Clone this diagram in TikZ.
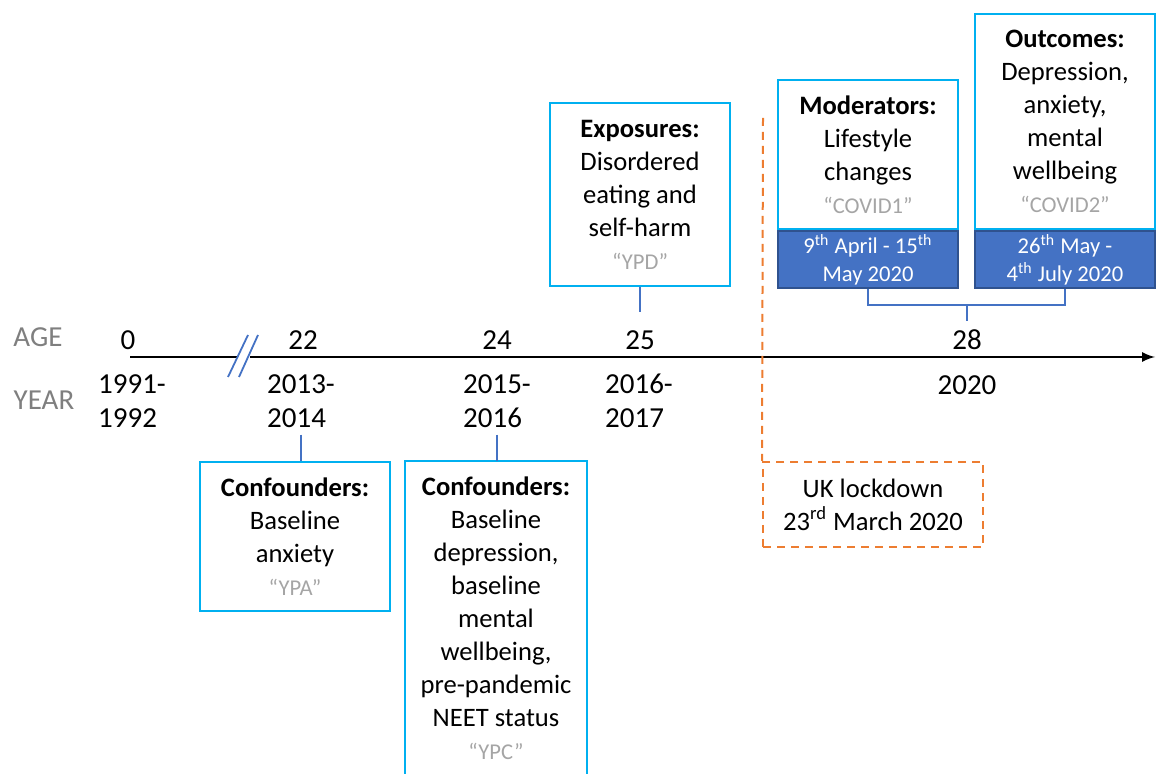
\documentclass[tikz,border=0pt]{standalone}
\usepackage{fontspec}
\setmainfont{Carlito}
\usetikzlibrary{arrows}
\usetikzlibrary{positioning}

\definecolor{boxcyan}{HTML}{00B0F0}
\definecolor{linkblue}{HTML}{4472C4}
\definecolor{dateedge}{HTML}{2F528F}
\definecolor{lockorange}{HTML}{ED7D31}
\definecolor{sidegray}{HTML}{7F7F7F}
\definecolor{wavegray}{HTML}{A5A5A5}

\newcommand{\tlboxfont}{\fontsize{13.3}{16.5}\selectfont}
\newcommand{\tldatefont}{\fontsize{11.3}{14}\selectfont}
\newcommand{\tlagefont}{\fontsize{14.5}{17}\selectfont}
\newcommand{\wavename}[1]{{\fontsize{11.3}{16.5}\selectfont\color{wavegray}“#1”}}

\begin{document}
\begin{tikzpicture}[x=0.5pt,y=-0.5pt,
  infobox/.style={draw=boxcyan,line width=1.1pt,align=center,minimum width=90pt,inner sep=2pt,font=\tlboxfont},
  datebox/.style={draw=dateedge,fill=linkblue,line width=0.8pt,text=white,align=center,minimum width=90pt,minimum height=28.5pt,inner sep=1pt,font=\tldatefont},
  lockbox/.style={draw=lockorange,line width=1pt,dash pattern=on 4pt off 3pt,align=center,minimum width=110pt,minimum height=42.5pt,font=\tlboxfont},
  link/.style={draw=linkblue,line width=0.6pt},
  agelabel/.style={font=\tlagefont},
  sidelabel/.style={font=\tlagefont,text=sidegray}]
  \useasboundingbox (0,0) rectangle (1156,774);

  % time axis
  \coordinate (start) at (130,357);
  \coordinate (breakL) at (237,357);
  \coordinate (breakR) at (250,357);
  \coordinate (end) at (1155,357);
  \draw [line width=1.2pt] (start) -- (breakL);
  \draw [line width=1.2pt,-latex] (breakR) -- (end);
  \draw [linkblue,line width=0.9pt] (228,377) -- (248,335);
  \draw [linkblue,line width=0.9pt] (239,377) -- (258,335);

  \node [sidelabel] (age) at (38,337) {AGE};
  \node [sidelabel] (year) at (44,400) {YEAR};

  \node [agelabel] (a0) at (128,340) {0};
  \node [agelabel] (a22) at (303,340) {22};
  \node [agelabel] (a24) at (497,340) {24};
  \node [agelabel] (a25) at (640,340) {25};
  \node [agelabel] (a28) at (967,340) {28};

  \node [agelabel,align=left] (y1991) at (132,401) {1991-\\1992};
  \node [agelabel,align=left] (y2013) at (301,401) {2013-\\2014};
  \node [agelabel,align=left] (y2015) at (497,401) {2015-\\2016};
  \node [agelabel,align=left] (y2016) at (639,401) {2016-\\2017};
  \node [agelabel] (y2020) at (967,385) {2020};

  % boxes above the axis
  \node [infobox,minimum height=91.5pt] (expo) at (640,194.5)
    {\textbf{Exposures:}\\Disordered\\eating and\\self-harm\\\wavename{YPD}};
  \draw [link,shorten >=5.5pt] (expo.south) -- (a25.north);

  \node [infobox,minimum height=74.5pt] (moder) at (868,154.5)
    {\textbf{Moderators:}\\Lifestyle\\changes\\\wavename{COVID1}};
  \node [datebox,below=0pt of moder] (moddate)
    {9\textsuperscript{th} April - 15\textsuperscript{th}\\May 2020};

  \node [infobox,minimum height=107.5pt] (outc) at (1065,121.5)
    {\textbf{Outcomes:}\\Depression,\\anxiety,\\mental\\wellbeing\\\wavename{COVID2}};
  \node [datebox,below=0pt of outc] (outdate)
    {26\textsuperscript{th} May -\\4\textsuperscript{th} July 2020};

  \coordinate (join) at (967,305);
  \draw [link] (moddate.south) -- (moddate.south |- join) -- (outdate.south |- join) -- (outdate.south);
  \draw [link,shorten >=1pt] (join) -- (a28.north);

  % boxes below the axis
  \node [infobox,minimum width=95pt,minimum height=74.5pt] (conf1) at (295,536.5)
    {\textbf{Confounders:}\\Baseline\\anxiety\\\wavename{YPA}};
  \draw [link] (y2013.south) -- (y2013.south |- conf1.north);

  \node [infobox,draw=none,minimum height=156pt] (conf2) at (496,618)
    {\textbf{Confounders:}\\Baseline\\depression,\\baseline\\mental\\wellbeing,\\pre-pandemic\\NEET status\\\wavename{YPC}};
  \draw [boxcyan,line width=1.1pt] (conf2.south west) -- (conf2.north west) -- (conf2.north east) -- (conf2.south east);
  \draw [link] (y2015.south) -- (y2015.south |- conf2.north);

  % lockdown
  \node [lockbox] (lock) at (873,504.5) {UK lockdown\\23\textsuperscript{rd} March 2020};
  \coordinate (locktop) at (763,118);
  \draw [lockorange,line width=1pt,dash pattern=on 4pt off 3pt] (locktop) -- (lock.north west);
\end{tikzpicture}
\end{document}
